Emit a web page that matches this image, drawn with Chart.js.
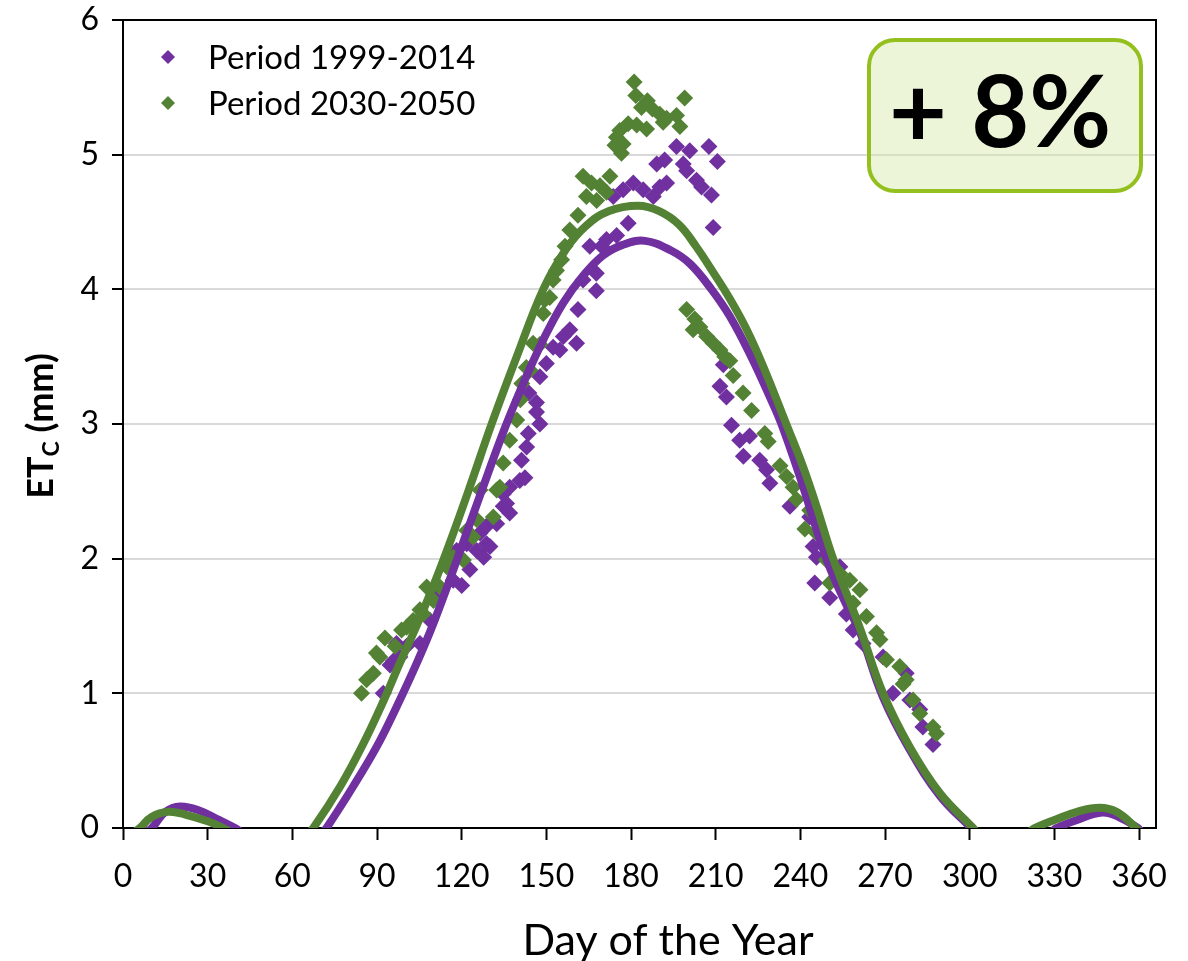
<!DOCTYPE html>
<html>
<head>
<meta charset="utf-8">
<script src="https://cdn.jsdelivr.net/npm/chart.js@4.4.1/dist/chart.umd.min.js"></script>
<style>
  html, body { margin: 0; padding: 0; background: #fff; }
  #wrap { width: 1188px; height: 961px; }
</style>
</head>
<body>
<div id="wrap"><canvas id="etc-chart" width="1188" height="961"></canvas></div>
<script>
// Scatter points, period 1999-2014 (day of year, ETc in mm)
const daysOld = [92.2, 94.6, 95.8, 96.9, 98.1, 100.5, 105.2, 108.8, 112.3, 117, 118.2, 120, 121.8, 122.9,
  125.3, 126.5, 127.8, 128.8, 128.8, 130, 132.4, 134.7, 134.7, 135.9, 137, 137, 140.6, 141.2, 142.4, 143,
  143.6, 143.8, 146.5, 146.5, 147.7, 147.7, 150, 152.4, 154.8, 156, 158.3, 160.7, 161.2, 163, 165.4, 167.7,
  167.7, 169.6, 171.3, 173.7, 174.9, 177.2, 179, 180.8, 184.3, 187.9, 189.1, 190.2, 191.9, 192.6, 196.1,
  198.5, 199.7, 200.8, 203.2, 205, 207.6, 208.5, 209.1, 210.6, 211.5, 212.7, 213.8, 215.6, 218.5, 219.8,
  222, 225.6, 228, 229.2, 236.3, 243.3, 244.5, 245.7, 245.1, 250.4, 254, 256.3, 258.7, 262.2, 269.3,
  272.8, 277.5, 278.8, 282.3, 283.4, 287];
const valsOld = [1.0, 1.21, 1.24, 1.37, 1.27, 1.35, 1.37, 1.54, 1.74, 1.84, 2.06, 1.80, 2.11, 1.92,
  2.06, 2.19, 2.01, 2.11, 2.24, 2.09, 2.26, 2.39, 2.48, 2.41, 2.34, 2.53, 2.58, 2.73, 2.60, 2.83,
  2.93, 3.23, 3.09, 3.16, 3.0, 3.35, 3.45, 3.57, 3.55, 3.65, 3.70, 3.60, 3.85, 4.07, 4.32, 4.12,
  3.99, 4.32, 4.37, 4.69, 4.40, 4.74, 4.49, 4.79, 4.74, 4.69, 4.93, 4.76, 4.96, 4.79, 5.06,
  4.93, 4.88, 5.03, 4.81, 4.76, 5.06, 4.70, 4.46, 4.95, 3.28, 3.44, 3.20, 2.99, 2.88, 2.76,
  2.91, 2.73, 2.66, 2.56, 2.39, 2.31, 2.09, 2.01, 1.82, 1.71, 1.94, 1.59, 1.47, 1.37, 1.27,
  1.0, 1.15, 0.95, 0.88, 0.75, 0.62];

// Scatter points, period 2030-2050
const daysNew = [84.5, 86.3, 88.7, 89.8, 91, 92.8, 96.4, 98.7, 100.5, 102.8, 105.2, 106.4, 107.6, 110,
  112.3, 114.7, 117, 120.6, 121.8, 124, 125.3, 126.5, 131.2, 132.4, 133.5, 134.7, 137, 139.5, 140.8,
  141.3, 142.9, 144.2, 145.3, 147.7, 148.9, 149.4, 151.2, 152.4, 153.6, 155.4, 156.6, 158.3, 161.2, 163,
  164.2, 166, 167.8, 169, 171.3, 172.5, 174.3, 174.8, 176, 176.6, 177.2, 179, 181.1, 181.7, 182, 183.7,
  185.5, 185.8, 187.6, 190.2, 191.4, 192.6, 196.1, 197.3, 199, 199.7, 202, 202.6, 204.4, 206.8, 209.1,
  211.5, 213.2, 215, 216.2, 219.7, 222.7, 227.4, 228.6, 232.8, 235.1, 237.4, 238.6, 241.6, 243.3, 245.7,
  249.2, 250.4, 254, 257.5, 258.7, 261.1, 263.4, 267, 268.2, 270.5, 275.2, 276.4, 277.5, 279.9, 282.3,
  287, 288.2];
const valsNew = [1.0, 1.10, 1.15, 1.30, 1.27, 1.41, 1.35, 1.47, 1.49, 1.54, 1.62, 1.59, 1.79, 1.69,
  1.79, 1.94, 2.01, 1.99, 2.21, 2.16, 2.29, 2.51, 2.31, 2.51, 2.53, 2.71, 2.88, 3.03, 3.18,
  3.30, 3.42, 3.40, 3.60, 3.59, 3.82, 3.92, 3.94, 4.07, 4.14, 4.22, 4.32, 4.44, 4.55, 4.84,
  4.69, 4.79, 4.66, 4.77, 4.72, 4.84, 5.07, 5.13, 5.18, 5.01, 5.08, 5.23, 5.54, 5.44, 5.22, 5.35,
  5.19, 5.40, 5.34, 5.30, 5.24, 5.27, 5.29, 5.21, 5.42, 3.85, 3.70, 3.78, 3.72, 3.65, 3.60,
  3.55, 3.50, 3.47, 3.36, 3.23, 3.10, 2.93, 2.87, 2.69, 2.61, 2.53, 2.44, 2.22, 2.36, 2.19,
  1.99, 1.82, 1.89, 1.84, 1.67, 1.77, 1.57, 1.45, 1.40, 1.25, 1.20, 1.07, 1.10, 0.95, 0.85,
  0.75, 0.70];

// Trend lines (null = hidden below the axis)
const fitDaysOld = [8, 10.2, 15, 20.2, 27, 34, 39.7, 42, 55,
  70, 72.1, 81.6, 89.8, 96.5, 104, 110, 117.6, 126.5, 135.3, 142, 149, 156, 163, 170, 177,
  185, 194, 200.9, 208.5, 215, 222.1, 229.2, 233.3, 239.8, 249.2, 256, 261, 269.3, 278.8, 289.4,
  300.5, 302.5, 315,
  329, 330.7, 338, 347, 353, 359.6, 361];
const fitValsOld = [-0.03, 0, 0.12, 0.16, 0.13, 0.06, 0, -0.03, null,
  -0.05, 0, 0.31, 0.60, 0.88, 1.22, 1.52, 1.95, 2.47, 2.97, 3.31, 3.63, 3.9, 4.1, 4.25, 4.33,
  4.36, 4.29, 4.19, 4.0, 3.80, 3.52, 3.20, 3.0, 2.61, 2.0, 1.67, 1.46, 0.97, 0.58, 0.24,
  0, -0.04, null,
  -0.03, 0, 0.06, 0.115, 0.08, 0, -0.04];

const fitDaysNew = [4, 6, 10, 16, 22, 30, 35.5, 38, 50,
  64.5, 67.4, 77, 85, 92, 98, 104, 110, 116, 123, 130.6, 139.5, 148.9, 157, 164, 172, 182.5,
  190, 197, 203, 209, 215, 221, 227, 235, 241, 245.7, 251.6, 261, 269.3, 278.8, 289.4, 301.2, 303, 312,
  321, 323, 330, 338, 346, 352, 359, 360.5];
const fitValsNew = [-0.03, 0, 0.08, 0.12, 0.10, 0.05, 0, -0.03, null,
  -0.06, 0, 0.31, 0.62, 0.93, 1.22, 1.50, 1.80, 2.13, 2.54, 3.0, 3.5, 4.0, 4.3, 4.47, 4.58, 4.62,
  4.58, 4.48, 4.32, 4.13, 3.93, 3.70, 3.42, 3.0, 2.68, 2.39, 2.0, 1.49, 1.0, 0.6, 0.26, 0, -0.04, null,
  -0.03, 0, 0.06, 0.12, 0.15, 0.12, 0, -0.04];

const xTicks = [0, 30, 60, 90, 120, 150, 180, 210, 240, 270, 300, 330, 360];
const seriesLabels = ['Period 1999-2014', 'Period 2030-2050'];
const changeLabel = '+ 8%';

const PURPLE = '#7030a0';
const GREEN = '#548235';
const FONT = 'Lato, "Open Sans", sans-serif';

const toPoints = (xs, ys) => xs.map((x, i) => ({ x: x, y: ys[i] }));

const decorPlugin = {
  id: 'decor',
  afterDraw(chart) {
    const ctx = chart.ctx;
    const a = chart.chartArea;
    ctx.save();

    // top and right frame of the plot area
    ctx.strokeStyle = '#000';
    ctx.lineWidth = 2;
    ctx.beginPath();
    ctx.moveTo(a.left, a.top);
    ctx.lineTo(a.right, a.top);
    ctx.lineTo(a.right, a.bottom);
    ctx.stroke();

    // x title
    ctx.fillStyle = '#000';
    ctx.font = '43px ' + FONT;
    ctx.textAlign = 'center';
    ctx.textBaseline = 'alphabetic';
    ctx.fillText('Day of the Year', 668, 955);

    // y title with subscript
    ctx.save();
    ctx.translate(40, 426);
    ctx.rotate(-Math.PI / 2);
    const big = 'bold 36px ' + FONT;
    const small = 'bold 23px ' + FONT;
    ctx.font = big;
    const wET = ctx.measureText('ET').width;
    const wRest = ctx.measureText(' (mm)').width;
    ctx.font = small;
    const wC = ctx.measureText('C').width;
    let x = -(wET + wC + wRest) / 2;
    ctx.textAlign = 'left';
    ctx.font = big;
    ctx.fillText('ET', x, 13);
    x += wET;
    ctx.font = small;
    ctx.fillText('C', x, 19);
    x += wC;
    ctx.font = big;
    ctx.fillText(' (mm)', x, 13);
    ctx.restore();

    // legend
    const colors = [PURPLE, GREEN];
    const rowsY = [57, 103];
    ctx.font = '33px ' + FONT;
    ctx.textAlign = 'left';
    ctx.textBaseline = 'middle';
    seriesLabels.forEach((label, i) => {
      const cy = rowsY[i];
      ctx.fillStyle = colors[i];
      ctx.beginPath();
      ctx.moveTo(168, cy - 7);
      ctx.lineTo(175, cy);
      ctx.lineTo(168, cy + 7);
      ctx.lineTo(161, cy);
      ctx.closePath();
      ctx.fill();
      ctx.fillStyle = '#000';
      ctx.fillText(label, 208, cy + 1);
    });

    // "+ 8%" box
    const bx = 869, by = 40, bw = 272, bh = 151, r = 26;
    ctx.beginPath();
    ctx.moveTo(bx + r, by);
    ctx.lineTo(bx + bw - r, by);
    ctx.arcTo(bx + bw, by, bx + bw, by + r, r);
    ctx.lineTo(bx + bw, by + bh - r);
    ctx.arcTo(bx + bw, by + bh, bx + bw - r, by + bh, r);
    ctx.lineTo(bx + r, by + bh);
    ctx.arcTo(bx, by + bh, bx, by + bh - r, r);
    ctx.lineTo(bx, by + r);
    ctx.arcTo(bx, by, bx + r, by, r);
    ctx.closePath();
    ctx.fillStyle = 'rgba(215, 232, 170, 0.45)';
    ctx.fill();
    ctx.strokeStyle = '#93c01f';
    ctx.lineWidth = 4;
    ctx.stroke();
    ctx.fillStyle = '#000';
    ctx.font = 'bold 100px ' + FONT;
    ctx.textAlign = 'center';
    ctx.textBaseline = 'alphabetic';
    ctx.fillText(changeLabel, 1000, 147);

    ctx.restore();
  }
};

new Chart(document.getElementById('etc-chart'), {
  type: 'scatter',
  data: {
    datasets: [
      {
        label: seriesLabels[1] + ' trend',
        data: toPoints(fitDaysNew, fitValsNew),
        showLine: true,
        borderColor: GREEN,
        borderWidth: 8,
        pointRadius: 0,
        tension: 0.4,
        spanGaps: false,
        clip: 0,
        order: 0
      },
      {
        label: seriesLabels[0] + ' trend',
        data: toPoints(fitDaysOld, fitValsOld),
        showLine: true,
        borderColor: PURPLE,
        borderWidth: 8,
        pointRadius: 0,
        tension: 0.4,
        spanGaps: false,
        clip: 0,
        order: 1
      },
      {
        label: seriesLabels[1],
        data: toPoints(daysNew, valsNew),
        pointStyle: 'rectRot',
        pointRadius: 8.5,
        borderWidth: 0,
        backgroundColor: GREEN,
        order: 2
      },
      {
        label: seriesLabels[0],
        data: toPoints(daysOld, valsOld),
        pointStyle: 'rectRot',
        pointRadius: 8.5,
        borderWidth: 0,
        backgroundColor: PURPLE,
        order: 3
      }
    ]
  },
  options: {
    responsive: false,
    animation: false,
    devicePixelRatio: 1,
    layout: { padding: { top: 20, right: 32, bottom: 0, left: 0 } },
    plugins: {
      legend: { display: false },
      tooltip: { enabled: false }
    },
    scales: {
      x: {
        type: 'linear',
        min: 0,
        max: 366,
        afterBuildTicks: (scale) => {
          scale.ticks = xTicks.map(v => ({ value: v }));
        },
        afterFit: (scale) => { scale.height = 133; },
        ticks: {
          color: '#000',
          font: { family: FONT, size: 32 },
          padding: 17,
          maxRotation: 0,
          autoSkip: false
        },
        grid: {
          drawOnChartArea: false,
          drawTicks: true,
          tickLength: 12,
          tickColor: '#000',
          tickWidth: 2
        },
        border: { color: '#000', width: 2 }
      },
      y: {
        min: 0,
        max: 6,
        afterFit: (scale) => {
          scale.width = 123;
          scale.paddingTop = 0;
          scale.paddingBottom = 0;
        },
        ticks: {
          stepSize: 1,
          color: '#000',
          font: { family: FONT, size: 32 },
          padding: 13
        },
        grid: {
          color: '#d9d9d9',
          lineWidth: 2,
          tickLength: 11,
          tickColor: '#000',
          tickWidth: 2
        },
        border: { color: '#000', width: 2 }
      }
    }
  },
  plugins: [decorPlugin]
});
</script>
</body>
</html>
